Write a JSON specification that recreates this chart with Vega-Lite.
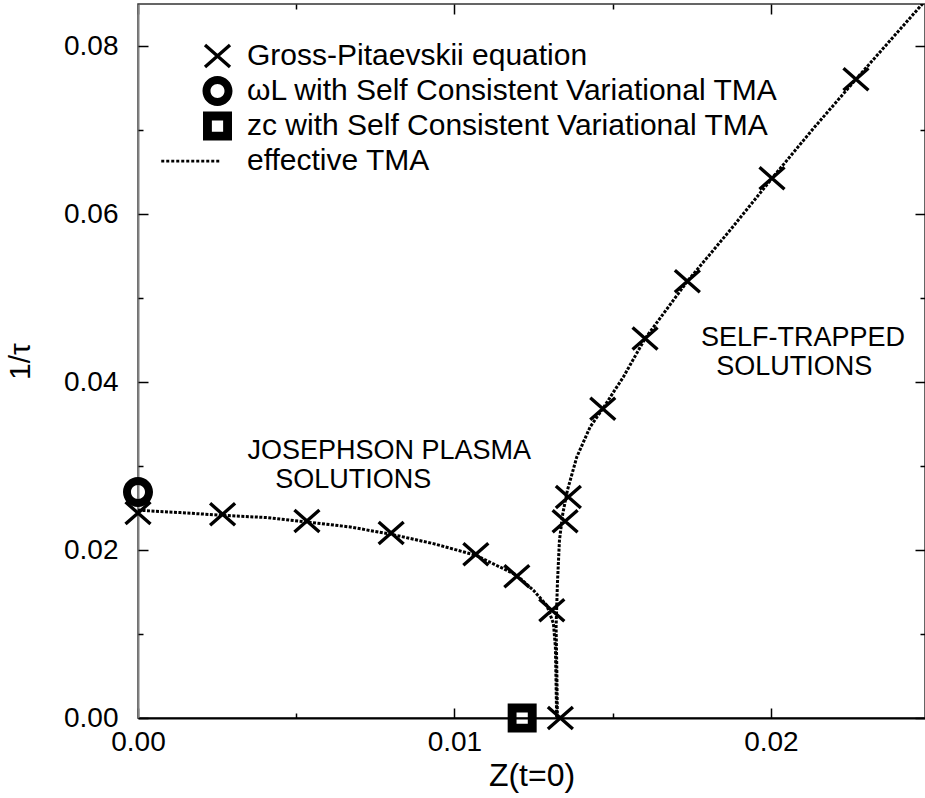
{
  "$schema": "https://vega.github.io/schema/vega-lite/v6.json",
  "width": 787,
  "height": 714,
  "autosize": "none",
  "padding": {"left": 138, "top": 4, "right": 0, "bottom": 80},
  "background": "white",
  "config": {
    "view": {"stroke": "#333333", "strokeWidth": 1.5},
    "font": "Liberation Sans",
    "axis": {"grid": false, "labelFont": "Liberation Sans", "titleFont": "Liberation Sans", "labelColor": "black", "titleColor": "black", "titleFontWeight": "normal", "tickColor": "black", "tickWidth": 1.5, "labelFlush": false, "labelOverlap": false}
  },
  "datasets": {
    "pts": [
      {"series": "Gross-Pitaevskii equation", "z": 0.0, "inv_tau": 0.0244},
      {"series": "Gross-Pitaevskii equation", "z": 0.002673, "inv_tau": 0.02425},
      {"series": "Gross-Pitaevskii equation", "z": 0.005338, "inv_tau": 0.02345},
      {"series": "Gross-Pitaevskii equation", "z": 0.008, "inv_tau": 0.02202},
      {"series": "Gross-Pitaevskii equation", "z": 0.010676, "inv_tau": 0.01949},
      {"series": "Gross-Pitaevskii equation", "z": 0.011971, "inv_tau": 0.01687},
      {"series": "Gross-Pitaevskii equation", "z": 0.013077, "inv_tau": 0.01282},
      {"series": "Gross-Pitaevskii equation", "z": 0.013348, "inv_tau": 0.0},
      {"series": "Gross-Pitaevskii equation", "z": 0.013497, "inv_tau": 0.02342},
      {"series": "Gross-Pitaevskii equation", "z": 0.0136, "inv_tau": 0.02631},
      {"series": "Gross-Pitaevskii equation", "z": 0.014687, "inv_tau": 0.03683},
      {"series": "Gross-Pitaevskii equation", "z": 0.016023, "inv_tau": 0.04517},
      {"series": "Gross-Pitaevskii equation", "z": 0.01736, "inv_tau": 0.05199},
      {"series": "Gross-Pitaevskii equation", "z": 0.020035, "inv_tau": 0.06425},
      {"series": "Gross-Pitaevskii equation", "z": 0.022688, "inv_tau": 0.07604},
      {"series": "ωL with Self Consistent Variational TMA", "z": 0.0, "inv_tau": 0.0269},
      {"series": "zc with Self Consistent Variational TMA", "z": 0.01214, "inv_tau": 0.0}
    ],
    "tma": [
      {"branch": "Josephson", "idx": 1, "z": 0.0, "inv_tau": 0.02474},
      {"branch": "Josephson", "idx": 2, "z": 0.001337, "inv_tau": 0.02445},
      {"branch": "Josephson", "idx": 3, "z": 0.002673, "inv_tau": 0.02413},
      {"branch": "Josephson", "idx": 4, "z": 0.004074, "inv_tau": 0.02386},
      {"branch": "Josephson", "idx": 5, "z": 0.005338, "inv_tau": 0.02334},
      {"branch": "Josephson", "idx": 6, "z": 0.006706, "inv_tau": 0.02274},
      {"branch": "Josephson", "idx": 7, "z": 0.008, "inv_tau": 0.02187},
      {"branch": "Josephson", "idx": 8, "z": 0.009337, "inv_tau": 0.02076},
      {"branch": "Josephson", "idx": 9, "z": 0.010676, "inv_tau": 0.01937},
      {"branch": "Josephson", "idx": 10, "z": 0.011971, "inv_tau": 0.01699},
      {"branch": "Josephson", "idx": 11, "z": 0.012496, "inv_tau": 0.0152},
      {"branch": "Josephson", "idx": 12, "z": 0.012918, "inv_tau": 0.01342},
      {"branch": "Josephson", "idx": 13, "z": 0.013128, "inv_tau": 0.01124},
      {"branch": "Josephson", "idx": 14, "z": 0.01319, "inv_tau": 0.00845},
      {"branch": "Josephson", "idx": 15, "z": 0.01321, "inv_tau": 0.00449},
      {"branch": "Josephson", "idx": 16, "z": 0.01323, "inv_tau": 0.0},
      {"branch": "SelfTrapped", "idx": 1, "z": 0.013254, "inv_tau": 0.0},
      {"branch": "SelfTrapped", "idx": 2, "z": 0.013234, "inv_tau": 0.00607},
      {"branch": "SelfTrapped", "idx": 3, "z": 0.013212, "inv_tau": 0.01083},
      {"branch": "SelfTrapped", "idx": 4, "z": 0.013254, "inv_tau": 0.016},
      {"branch": "SelfTrapped", "idx": 5, "z": 0.013318, "inv_tau": 0.02115},
      {"branch": "SelfTrapped", "idx": 6, "z": 0.013424, "inv_tau": 0.02433},
      {"branch": "SelfTrapped", "idx": 7, "z": 0.01357, "inv_tau": 0.02711},
      {"branch": "SelfTrapped", "idx": 8, "z": 0.013866, "inv_tau": 0.03107},
      {"branch": "SelfTrapped", "idx": 9, "z": 0.014286, "inv_tau": 0.03464},
      {"branch": "SelfTrapped", "idx": 10, "z": 0.014687, "inv_tau": 0.03683},
      {"branch": "SelfTrapped", "idx": 11, "z": 0.015338, "inv_tau": 0.0406},
      {"branch": "SelfTrapped", "idx": 12, "z": 0.016023, "inv_tau": 0.04517},
      {"branch": "SelfTrapped", "idx": 13, "z": 0.01736, "inv_tau": 0.05199},
      {"branch": "SelfTrapped", "idx": 14, "z": 0.018708, "inv_tau": 0.05806},
      {"branch": "SelfTrapped", "idx": 15, "z": 0.020035, "inv_tau": 0.06425},
      {"branch": "SelfTrapped", "idx": 16, "z": 0.02134, "inv_tau": 0.07017},
      {"branch": "SelfTrapped", "idx": 17, "z": 0.022688, "inv_tau": 0.07604},
      {"branch": "SelfTrapped", "idx": 18, "z": 0.0248, "inv_tau": 0.08505}
    ]
  },
  "layer": [
    {
      "data": {"name": "tma"},
      "mark": {"type": "line", "color": "black", "strokeWidth": 3, "strokeDash": [3, 1.5], "clip": true},
      "encoding": {
        "x": {"field": "z", "type": "quantitative", "scale": {"domain": [0, 0.02487], "nice": false, "zero": false},
          "axis": {"orient": "bottom", "values": [0, 0.01, 0.02], "format": ".2f", "ticks": false, "domain": true, "domainColor": "black", "domainWidth": 2, "labelFontSize": 28, "labelPadding": 10, "title": "Z(t=0)", "titleFontSize": 32, "titlePadding": 4}},
        "y": {"field": "inv_tau", "type": "quantitative", "scale": {"domain": [0, 0.085], "nice": false, "zero": false},
          "axis": {"orient": "left", "values": [0, 0.02, 0.04, 0.06, 0.08], "format": ".2f", "ticks": false, "domain": true, "domainColor": "#808080", "domainWidth": 2, "labelFontSize": 28, "labelPadding": 20, "title": "1/τ", "titleFontSize": 30, "titlePadding": 28}},
        "detail": {"field": "branch", "type": "nominal"},
        "order": {"field": "idx", "type": "quantitative"}
      }
    },
    {
      "data": {"name": "pts"},
      "mark": {"type": "point", "filled": true, "color": "black", "opacity": 1, "size": 625, "strokeWidth": 0},
      "encoding": {
        "x": {"field": "z", "type": "quantitative", "scale": {"domain": [0, 0.02487], "nice": false, "zero": false},
          "axis": {"orient": "bottom", "values": [0, 0.01, 0.02], "labels": false, "domain": false, "tickSize": -10, "title": null}},
        "y": {"field": "inv_tau", "type": "quantitative", "scale": {"domain": [0, 0.085], "nice": false, "zero": false},
          "axis": {"orient": "left", "values": [0, 0.02, 0.04, 0.06, 0.08], "labels": false, "domain": false, "tickSize": -10, "title": null}},
        "shape": {
          "field": "series", "type": "nominal",
          "scale": {
            "domain": ["Gross-Pitaevskii equation", "ωL with Self Consistent Variational TMA", "zc with Self Consistent Variational TMA", "effective TMA"],
            "range": [
              "M-1.089,-0.78L0.911,0.98L1.089,0.78L-0.911,-0.98Z M-0.911,0.98L1.089,-0.78L0.911,-0.98L-1.089,0.78Z",
              "M1.2,0A1.2,1.2,0,1,1,-1.2,0A1.2,1.2,0,1,1,1.2,0Z M0.56,0A0.56,0.56,0,1,0,-0.56,0A0.56,0.56,0,1,0,0.56,0Z",
              "M-1.16,-1.16L1.16,-1.16L1.16,1.16L-1.16,1.16Z M-0.45,-0.45L-0.45,0.45L0.45,0.45L0.45,-0.45Z",
              "M-4.5,-0.11L-4.26,-0.11L-4.26,0.11L-4.5,0.11Z M-4.1,-0.11L-3.86,-0.11L-3.86,0.11L-4.1,0.11Z M-3.7,-0.11L-3.46,-0.11L-3.46,0.11L-3.7,0.11Z M-3.3,-0.11L-3.06,-0.11L-3.06,0.11L-3.3,0.11Z M-2.9,-0.11L-2.66,-0.11L-2.66,0.11L-2.9,0.11Z M-2.5,-0.11L-2.26,-0.11L-2.26,0.11L-2.5,0.11Z M-2.1,-0.11L-1.86,-0.11L-1.86,0.11L-2.1,0.11Z M-1.7,-0.11L-1.46,-0.11L-1.46,0.11L-1.7,0.11Z M-1.3,-0.11L-1.06,-0.11L-1.06,0.11L-1.3,0.11Z M-0.9,-0.11L-0.66,-0.11L-0.66,0.11L-0.9,0.11Z M-0.5,-0.11L-0.26,-0.11L-0.26,0.11L-0.5,0.11Z M-0.1,-0.11L0.14,-0.11L0.14,0.11L-0.1,0.11Z"
            ]
          },
          "legend": {"orient": "none", "direction": "vertical", "legendX": 64.5, "legendY": 37, "title": null, "padding": 0, "labelFont": "Liberation Sans", "labelFontSize": 30, "labelColor": "black", "labelLimit": 900, "labelOffset": 14.5, "rowPadding": 5, "symbolSize": 625, "symbolFillColor": "black", "symbolStrokeColor": "black", "symbolStrokeWidth": 0, "symbolOpacity": 1}
        }
      }
    },
    {
      "data": {"values": [{}]},
      "mark": {"type": "text", "text": "JOSEPHSON PLASMA", "align": "left", "baseline": "alphabetic", "font": "Liberation Sans", "fontSize": 27, "color": "black"},
      "encoding": {
        "x": {"datum": 0.003459, "type": "quantitative", "scale": {"domain": [0, 0.02487], "nice": false, "zero": false},
          "axis": {"orient": "bottom", "values": [0.005, 0.015], "labels": false, "domain": false, "tickSize": -5, "title": null}},
        "y": {"datum": 0.0308, "type": "quantitative", "scale": {"domain": [0, 0.085], "nice": false, "zero": false},
          "axis": {"orient": "left", "values": [0.01, 0.03, 0.05, 0.07], "labels": false, "domain": false, "tickSize": -5, "title": null}}
      }
    },
    {
      "data": {"values": [{}]},
      "mark": {"type": "text", "text": "SOLUTIONS", "align": "left", "baseline": "alphabetic", "font": "Liberation Sans", "fontSize": 27, "color": "black"},
      "encoding": {
        "x": {"datum": 0.004337, "type": "quantitative", "scale": {"domain": [0, 0.02487], "nice": false, "zero": false},
          "axis": {"orient": "top", "values": [0, 0.01, 0.02], "labels": false, "domain": false, "tickSize": -10, "title": null}},
        "y": {"datum": 0.02735, "type": "quantitative", "scale": {"domain": [0, 0.085], "nice": false, "zero": false},
          "axis": {"orient": "right", "values": [0, 0.02, 0.04, 0.06, 0.08], "labels": false, "domain": false, "tickSize": -10, "title": null}}
      }
    },
    {
      "data": {"values": [{}]},
      "mark": {"type": "text", "text": "SELF-TRAPPED", "align": "left", "baseline": "alphabetic", "font": "Liberation Sans", "fontSize": 27, "color": "black"},
      "encoding": {
        "x": {"datum": 0.01779, "type": "quantitative", "scale": {"domain": [0, 0.02487], "nice": false, "zero": false},
          "axis": {"orient": "top", "values": [0.005, 0.015], "labels": false, "domain": false, "tickSize": -5, "title": null}},
        "y": {"datum": 0.04425, "type": "quantitative", "scale": {"domain": [0, 0.085], "nice": false, "zero": false},
          "axis": {"orient": "right", "values": [0.01, 0.03, 0.05, 0.07], "labels": false, "domain": false, "tickSize": -5, "title": null}}
      }
    },
    {
      "data": {"values": [{}]},
      "mark": {"type": "text", "text": "SOLUTIONS", "align": "left", "baseline": "alphabetic", "font": "Liberation Sans", "fontSize": 27, "color": "black"},
      "encoding": {
        "x": {"datum": 0.01827, "type": "quantitative", "scale": {"domain": [0, 0.02487], "nice": false, "zero": false}, "axis": null},
        "y": {"datum": 0.0408, "type": "quantitative", "scale": {"domain": [0, 0.085], "nice": false, "zero": false}, "axis": null}
      }
    }
  ],
  "resolve": {"axis": {"x": "independent", "y": "independent"}}
}
